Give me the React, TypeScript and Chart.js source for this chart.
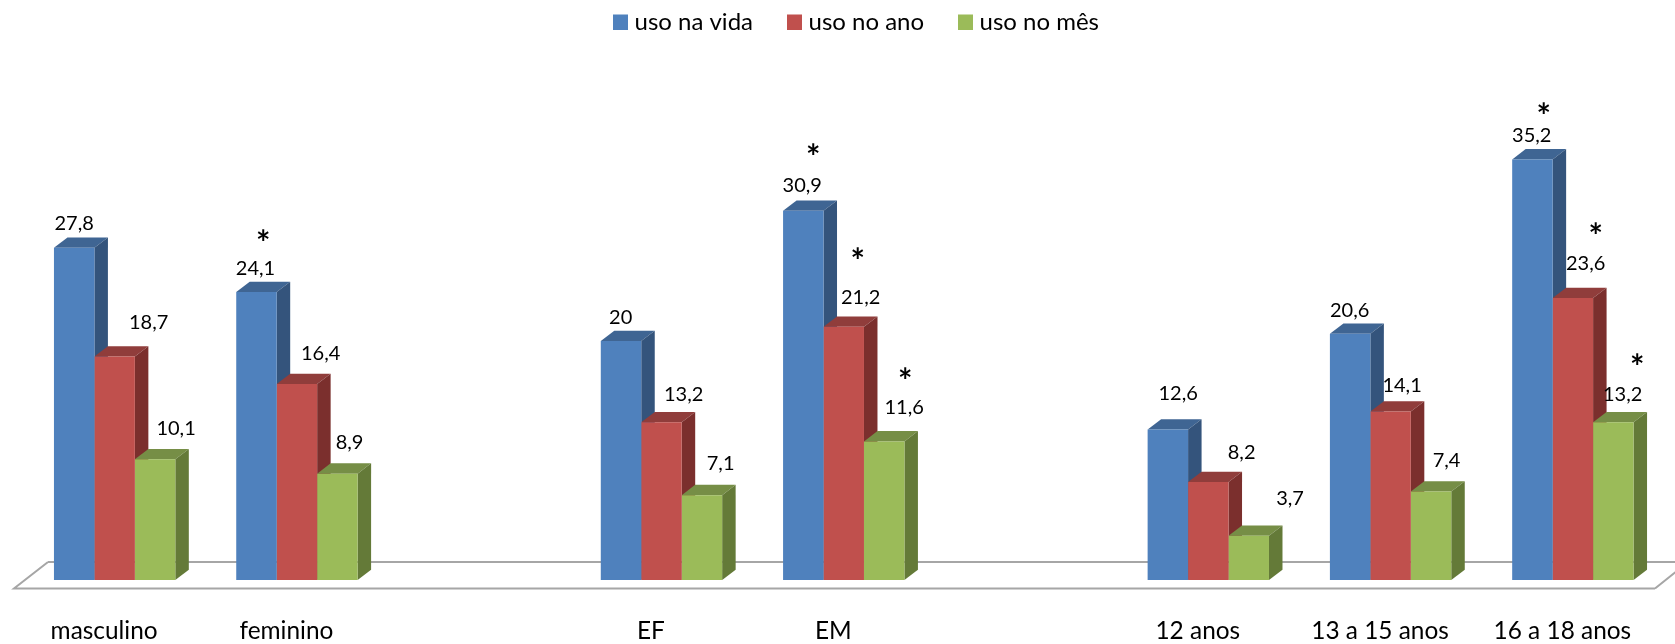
import React, { useEffect, useRef } from "react";
import { Chart, registerables } from "chart.js";

Chart.register(...registerables);

// Prevalence (%) by sex, school level and age; the blank slots separate the three blocks.
const categories = ["masculino", "feminino", "", "EF", "EM", "", "12 anos", "13 a 15 anos", "16 a 18 anos"];
const usoNaVida = [27.8, 24.1, null, 20, 30.9, null, 12.6, 20.6, 35.2];
const usoNoAno = [18.7, 16.4, null, 13.2, 21.2, null, 8.2, 14.1, 23.6];
const usoNoMes = [10.1, 8.9, null, 7.1, 11.6, null, 3.7, 7.4, 13.2];

const seriesNames = ["uso na vida", "uso no ano", "uso no mês"];
const faceColors = ["#4F81BD", "#C0504D", "#9BBB59"];
const topColors = ["#3F6593", "#903D3B", "#768E46"];
const sideColors = ["#34547C", "#7B2F2D", "#647A38"];

// Value label placement relative to the top centre of each bar, per series and category.
const labelOffsets: ([number, number] | null)[][] = [
  [[0, -24], [-1, -23], null, [-0.3, -23], [-1.1, -25], null, [10.3, -36], [-0.5, -23], [-0.7, -23.4]],
  [[34, -34.5], [23.7, -30], null, [22.2, -28], [16.9, -29], null, [33.3, -29], [11.5, -26], [12.8, -34]],
  [[21, -30.6], [12.2, -31.6], null, [18.7, -32], [19.9, -34], null, [41.3, -37], [15.5, -31], [9.3, -28]],
];

// Significance markers, placed the same way.
const starOffsets: ([number, number] | null)[][] = [
  [null, [6.7, -55], null, null, [9.9, -60], null, null, null, [11.3, -49]],
  [null, null, null, null, [13.9, -72], null, null, null, [22.8, -68]],
  [null, null, null, null, [20.9, -66], null, null, null, [23.8, -61]],
];

const FONT = "Lato";
const DEPTH_X = 13.5;
const DEPTH_Y = 10.3;

const legendSwatchX = [613, 787, 958];

const formatValue = (v: number) => String(v).replace(".", ",");

// Extruded sides and tops of the bars, plus the floor they stand on.
const depthPlugin = {
  id: "depth",
  beforeDatasetsDraw(chart: any) {
    const { ctx, chartArea, width } = chart;
    const front = chartArea.bottom + 8;
    const back = chartArea.bottom - 18;
    ctx.save();
    ctx.strokeStyle = "#A6A6A6";
    ctx.lineWidth = 2;
    ctx.beginPath();
    ctx.moveTo(48, back);
    ctx.lineTo(width + 20, back);
    ctx.moveTo(width - 20, front + 0.5);
    ctx.lineTo(14, front + 0.5);
    ctx.lineTo(48, back);
    ctx.moveTo(width - 20, front + 0.5);
    ctx.lineTo(width + 13, back);
    ctx.stroke();

    chart.data.datasets.forEach((_: any, di: number) => {
      chart.getDatasetMeta(di).data.forEach((bar: any, i: number) => {
        if (chart.data.datasets[di].data[i] == null) return;
        const { x, y, base, width: w } = bar.getProps(["x", "y", "base", "width"], true);
        const l = x - w / 2;
        const r = x + w / 2;
        ctx.fillStyle = topColors[di];
        ctx.beginPath();
        ctx.moveTo(l, y);
        ctx.lineTo(l + DEPTH_X, y - DEPTH_Y);
        ctx.lineTo(r + DEPTH_X, y - DEPTH_Y);
        ctx.lineTo(r, y);
        ctx.closePath();
        ctx.fill();
        ctx.fillStyle = sideColors[di];
        ctx.beginPath();
        ctx.moveTo(r, y);
        ctx.lineTo(r + DEPTH_X, y - DEPTH_Y);
        ctx.lineTo(r + DEPTH_X, base - DEPTH_Y);
        ctx.lineTo(r, base);
        ctx.closePath();
        ctx.fill();
      });
    });
    ctx.restore();
  },
};

// Value labels, asterisks and the legend row.
const annotationPlugin = {
  id: "annotations",
  afterDatasetsDraw(chart: any) {
    const { ctx } = chart;
    ctx.save();
    ctx.fillStyle = "#000";
    ctx.textAlign = "center";
    ctx.textBaseline = "middle";
    chart.data.datasets.forEach((ds: any, di: number) => {
      chart.getDatasetMeta(di).data.forEach((bar: any, i: number) => {
        const value = ds.data[i];
        if (value == null) return;
        const { x, y } = bar.getProps(["x", "y"], true);
        const lo = labelOffsets[di][i];
        if (lo) {
          ctx.font = `20px ${FONT}`;
          ctx.fillText(formatValue(value), x + lo[0], y + lo[1]);
        }
        const so = starOffsets[di][i];
        if (so) {
          ctx.font = `bold 34px ${FONT}`;
          ctx.fillText("*", x + so[0], y + so[1] + 7);
        }
      });
    });

    ctx.textAlign = "left";
    ctx.font = `24px ${FONT}`;
    chart.data.datasets.forEach((ds: any, di: number) => {
      const sx = legendSwatchX[di];
      ctx.fillStyle = ds.backgroundColor;
      ctx.fillRect(sx, 14.5, 15, 15.5);
      ctx.fillStyle = "#000";
      ctx.fillText(ds.label, sx + 21.5, 22.5);
    });
    ctx.restore();
  },
};

export default function App() {
  const ref = useRef<HTMLCanvasElement>(null);

  useEffect(() => {
    if (!ref.current) return;
    const series = [usoNaVida, usoNoAno, usoNoMes];
    const chart = new Chart(ref.current, {
      type: "bar",
      data: {
        labels: categories,
        datasets: series.map((data, i) => ({
          label: seriesNames[i],
          data,
          backgroundColor: faceColors[i],
          categoryPercentage: 0.6658,
          barPercentage: 1,
        })),
      },
      plugins: [depthPlugin, annotationPlugin],
      options: {
        responsive: false,
        animation: false,
        layout: { padding: { left: 23.5, right: 11, top: 8, bottom: 0 } },
        plugins: { legend: { display: false }, tooltip: { enabled: false } },
        scales: {
          x: {
            grid: { display: false, drawTicks: false },
            border: { display: false },
            afterFit: (scale: any) => {
              // Fixed axis band; the wide tick gap must not eat into the plot width.
              scale.height = 64;
              scale.paddingLeft = 0;
              scale.paddingRight = 0;
            },
            ticks: {
              autoSkip: false,
              maxRotation: 0,
              padding: 37,
              labelOffset: -10.5,
              color: "#000",
              font: { family: FONT, size: 24.4 },
            },
          },
          y: { display: false, min: 0, max: 47.87 },
        },
      },
    });
    return () => chart.destroy();
  }, []);

  return (
    <canvas
      ref={ref}
      width={1675}
      height={644}
      style={{ position: "absolute", left: 0, top: 0, display: "block" }}
    />
  );
}
